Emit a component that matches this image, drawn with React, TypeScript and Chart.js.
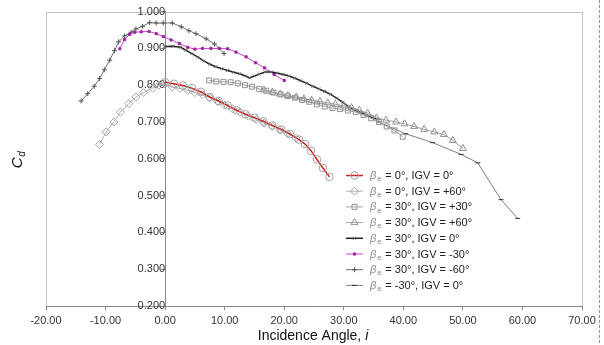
import React, { useEffect, useRef } from 'react';
import { Chart, registerables } from 'chart.js';
import { drawPoint } from 'chart.js/helpers';

Chart.register(...registerables);

const FONT = '"Liberation Sans", Arial, sans-serif';

const xRange = [-20, 70];
const yRange = [0.2, 1.0];
const xStep = 10;
const yStep = 0.1;

// beta = 0, IGV = 0
const s1X = [0, 1.5, 3.0, 4.5, 6.0, 7.5, 9.0, 10.5, 12.0, 13.5, 15.0, 16.5, 18.0, 19.5, 21.0, 22.5, 23.5, 24.5, 25.5, 26.5, 27.6];
const s1Y = [0.808, 0.804, 0.799, 0.792, 0.782, 0.768, 0.757, 0.745, 0.732, 0.721, 0.712, 0.702, 0.691, 0.680, 0.667, 0.652, 0.640, 0.622, 0.598, 0.575, 0.551];
// beta = 0, IGV = +60
const s2X = [-11.0, -9.9, -8.6, -7.5, -6.1, -4.9, -3.6, -2.1, -1.0, 0, 1.2, 2.5, 3.8, 5.0, 6.3, 7.5, 8.8, 10.0, 11.3, 12.6, 14.0, 15.3, 16.6, 18.0, 19.3, 20.6, 22.0];
const s2Y = [0.639, 0.673, 0.700, 0.727, 0.750, 0.768, 0.780, 0.792, 0.800, 0.803, 0.795, 0.791, 0.786, 0.780, 0.774, 0.766, 0.756, 0.746, 0.736, 0.727, 0.716, 0.707, 0.697, 0.688, 0.678, 0.668, 0.656];
// beta = 30, IGV = +30
const s3X = [7.4, 8.6, 9.8, 11.0, 12.2, 13.4, 14.6, 15.8, 17.0, 18.2, 19.4, 20.6, 21.8, 23.0, 24.2, 25.5, 26.8, 28.1, 29.4, 30.7, 32.0, 33.3, 34.6, 35.9, 37.2, 38.5, 39.9];
const s3Y = [0.813, 0.810, 0.809, 0.808, 0.805, 0.800, 0.796, 0.790, 0.785, 0.780, 0.775, 0.770, 0.766, 0.760, 0.755, 0.748, 0.742, 0.738, 0.735, 0.731, 0.727, 0.719, 0.710, 0.700, 0.688, 0.677, 0.660];
// beta = 30, IGV = +60
const s4X = [16.6, 18.0, 19.3, 20.6, 22.0, 23.3, 24.6, 26.0, 27.3, 28.6, 30.0, 31.3, 32.6, 34.0, 35.5, 37.1, 38.8, 40.2, 41.8, 43.5, 45.2, 46.8, 48.3, 50.0];
const s4Y = [0.787, 0.781, 0.776, 0.772, 0.768, 0.763, 0.759, 0.756, 0.752, 0.748, 0.744, 0.739, 0.732, 0.724, 0.711, 0.705, 0.700, 0.695, 0.688, 0.680, 0.673, 0.666, 0.650, 0.628];
// beta = 30, IGV = 0
const s5X = [0, 1.3, 2.6, 3.5, 4.5, 5.5, 6.5, 7.5, 8.5, 9.5, 10.5, 11.5, 12.5, 13.5, 14.2, 15.0, 15.8, 16.8, 17.8, 18.8, 19.8, 20.8, 21.8, 22.8, 23.8, 24.8, 25.8, 26.8, 27.8, 28.8, 29.8, 30.8, 31.8, 32.8, 33.8, 34.8, 35.6];
const s5Y = [0.905, 0.906, 0.903, 0.895, 0.886, 0.876, 0.866, 0.857, 0.850, 0.845, 0.840, 0.835, 0.831, 0.825, 0.820, 0.825, 0.830, 0.836, 0.836, 0.833, 0.829, 0.825, 0.819, 0.812, 0.805, 0.797, 0.790, 0.783, 0.775, 0.765, 0.754, 0.742, 0.733, 0.726, 0.718, 0.712, 0.708];
// beta = 30, IGV = -30
const s6X = [-7.6, -6.8, -6.0, -5.1, -4.0, -2.7, -1.5, -0.3, 1.0, 2.4, 3.8, 5.0, 6.3, 7.7, 9.1, 10.5, 11.9, 13.6, 15.2, 16.7, 18.3, 20.0];
const s6Y = [0.899, 0.924, 0.938, 0.944, 0.945, 0.946, 0.940, 0.932, 0.923, 0.913, 0.903, 0.898, 0.900, 0.900, 0.900, 0.899, 0.890, 0.877, 0.861, 0.847, 0.829, 0.813];
// beta = 30, IGV = -60
const s7X = [-14.1, -13.0, -11.9, -11.0, -10.2, -9.3, -8.5, -7.8, -6.8, -5.7, -4.9, -3.8, -2.6, -1.5, -0.3, 1.2, 2.7, 4.0, 5.2, 6.9, 8.3, 9.9];
const s7Y = [0.757, 0.777, 0.797, 0.818, 0.842, 0.868, 0.894, 0.918, 0.934, 0.944, 0.953, 0.960, 0.970, 0.969, 0.969, 0.969, 0.959, 0.948, 0.940, 0.926, 0.912, 0.886];
// beta = -30, IGV = 0
const s8X = [35.8, 40.4, 44.9, 49.7, 52.5, 56.4, 59.2];
const s8Y = [0.700, 0.668, 0.644, 0.612, 0.589, 0.489, 0.438];

const legendLabels = [
  ' = 0°, IGV = 0°',
  ' = 0°, IGV = +60°',
  ' = 30°, IGV = +30°',
  ' = 30°, IGV = +60°',
  ' = 30°, IGV = 0°',
  ' = 30°, IGV = -30°',
  ' = 30°, IGV = -60°',
  ' = -30°, IGV = 0°',
];

const xTitle = 'Incidence Angle, ';
const xTitleItalic = 'i';
const yTitleMain = 'C';
const yTitleSub = 'd';

const pts = (xs: number[], ys: number[]) => xs.map((x, i) => ({ x, y: ys[i] }));

const styles = [
  { line: '#cc2222', lw: 1.5, ps: 'circle', r: 3.8, pc: '#a4a4a4', pf: 'rgba(255,255,255,0)' },
  { line: '#b0b0b0', lw: 1, ps: 'rectRot', r: 4, pc: '#a4a4a4', pf: 'rgba(255,255,255,0)' },
  { line: '#a0a0a0', lw: 1, ps: 'rect', r: 3.5, pc: '#909090', pf: 'rgba(255,255,255,0)' },
  { line: '#a0a0a0', lw: 1, ps: 'triangle', r: 4, pc: '#909090', pf: 'rgba(255,255,255,0)' },
  { line: '#222222', lw: 1.5, ps: 'crossRot', r: 2, pc: '#666666', pf: '#666666' },
  { line: '#cc44cc', lw: 1, ps: 'rect', r: 1.5, pc: '#a020a0', pf: '#a020a0' },
  { line: '#707070', lw: 1, ps: 'cross', r: 2.5, pc: '#555555', pf: '#555555' },
  { line: '#808080', lw: 1, ps: 'line', r: 2.5, pc: '#333333', pf: '#333333' },
];

const series = [
  pts(s1X, s1Y), pts(s2X, s2Y), pts(s3X, s3Y), pts(s4X, s4Y),
  pts(s5X, s5Y), pts(s6X, s6Y), pts(s7X, s7Y), pts(s8X, s8Y),
];

const overlay = {
  id: 'overlay',
  beforeDraw(chart: any) {
    const { ctx, chartArea: a } = chart;
    ctx.save();
    ctx.fillStyle = '#ffffff';
    ctx.fillRect(0, 0, chart.width, chart.height);
    ctx.strokeStyle = '#c4c4c4';
    ctx.lineWidth = 1;
    ctx.strokeRect(Math.round(a.left) + 0.5, Math.round(a.top) + 0.5, Math.round(a.right - a.left), Math.round(a.bottom - a.top));
    ctx.restore();
  },
  afterDraw(chart: any) {
    const { ctx } = chart;
    ctx.save();
    // x title
    ctx.fillStyle = '#111';
    ctx.textBaseline = 'alphabetic';
    ctx.textAlign = 'left';
    ctx.font = `14px ${FONT}`;
    const w1 = ctx.measureText(xTitle).width;
    ctx.font = `italic 14px ${FONT}`;
    const w2 = ctx.measureText(xTitleItalic).width;
    const sx = 313 - (w1 + w2) / 2;
    ctx.font = `14px ${FONT}`;
    ctx.fillText(xTitle, sx, 340);
    ctx.font = `italic 14px ${FONT}`;
    ctx.fillText(xTitleItalic, sx + w1, 340);

    // y title
    ctx.save();
    ctx.translate(22, 160);
    ctx.rotate(-Math.PI / 2);
    ctx.font = `italic 15px ${FONT}`;
    const c1 = ctx.measureText(yTitleMain).width;
    ctx.font = `italic 10px ${FONT}`;
    const c2 = ctx.measureText(yTitleSub).width;
    const st = -(c1 + c2) / 2;
    ctx.font = `italic 15px ${FONT}`;
    ctx.fillText(yTitleMain, st, 0);
    ctx.font = `italic 10px ${FONT}`;
    ctx.fillText(yTitleSub, st + c1 + 0.5, 3);
    ctx.restore();

    // legend
    const lx0 = 346, lx1 = 363, mx = 354.5, tx = 370;
    legendLabels.forEach((lab, i) => {
      const y = 175 + i * 15.7;
      const s = styles[i];
      ctx.strokeStyle = s.line;
      ctx.lineWidth = s.lw;
      ctx.beginPath();
      ctx.moveTo(lx0, y + 0.5);
      ctx.lineTo(lx1, y + 0.5);
      ctx.stroke();
      ctx.strokeStyle = s.pc;
      ctx.fillStyle = s.pf;
      ctx.lineWidth = 1;
      drawPoint(ctx, { pointStyle: s.ps, radius: s.r, rotation: 0, borderWidth: 1 } as any, mx, y + 0.5);
      ctx.textBaseline = 'middle';
      ctx.fillStyle = '#8a8a8a';
      ctx.font = `italic 11px ${FONT}`;
      ctx.fillText('β', tx, y + 1);
      const bw = ctx.measureText('β').width;
      ctx.font = `8px ${FONT}`;
      ctx.fillText('e', tx + bw + 1, y + 4);
      const ew = ctx.measureText('e').width;
      ctx.fillStyle = '#222';
      ctx.font = `11px ${FONT}`;
      ctx.fillText(lab, tx + bw + ew + 1.5, y + 1);
    });

    // page edge dashed line
    ctx.strokeStyle = '#e87070';
    ctx.lineWidth = 1;
    ctx.setLineDash([3, 2]);
    ctx.beginPath();
    ctx.moveTo(599.5, 0);
    ctx.lineTo(599.5, chart.height);
    ctx.stroke();
    ctx.restore();
  },
};

export default function App() {
  const ref = useRef<HTMLCanvasElement>(null);
  useEffect(() => {
    document.body.style.margin = '0';
    document.body.style.overflow = 'hidden';
    Chart.defaults.font.family = FONT;
    const chart = new Chart(ref.current as HTMLCanvasElement, {
      type: 'line',
      data: {
        datasets: series.map((d, i) => ({
          label: legendLabels[i],
          data: d,
          borderColor: styles[i].line,
          borderWidth: styles[i].lw,
          pointStyle: styles[i].ps as any,
          pointRadius: styles[i].r,
          pointBorderColor: styles[i].pc,
          pointBackgroundColor: styles[i].pf,
          pointBorderWidth: 1,
          fill: false,
          tension: 0,
        })),
      },
      options: {
        responsive: false,
        animation: false,
        events: [],
        layout: { padding: { left: 46, right: 22, top: 11, bottom: 0 } },
        plugins: { legend: { display: false }, tooltip: { enabled: false } },
        scales: {
          x: {
            type: 'linear',
            min: xRange[0],
            max: xRange[1],
            afterFit: (s: any) => { s.height = 39; },
            ticks: {
              stepSize: xStep,
              callback: (v: any) => Number(v).toFixed(2),
              font: { size: 11, family: FONT },
              color: '#333',
              padding: 4,
              maxRotation: 0,
            },
            grid: { drawOnChartArea: false, drawTicks: true, tickLength: 4, color: '#888' },
            border: { display: true, color: '#888' },
          },
          y: {
            type: 'linear',
            position: { x: 0 } as any,
            min: yRange[0],
            max: yRange[1],
            ticks: {
              stepSize: yStep,
              callback: (v: any) => Number(v).toFixed(3),
              font: { size: 11, family: FONT },
              color: '#333',
              padding: 5,
            },
            grid: { drawOnChartArea: false, drawTicks: true, tickLength: 4, color: '#888' },
            border: { display: true, color: '#888' },
          },
        },
      },
      plugins: [overlay],
    });
    return () => chart.destroy();
  }, []);
  return (
    <div style={{ width: 604, height: 345 }}>
      <canvas ref={ref} width={604} height={345} style={{ display: 'block' }} />
    </div>
  );
}
